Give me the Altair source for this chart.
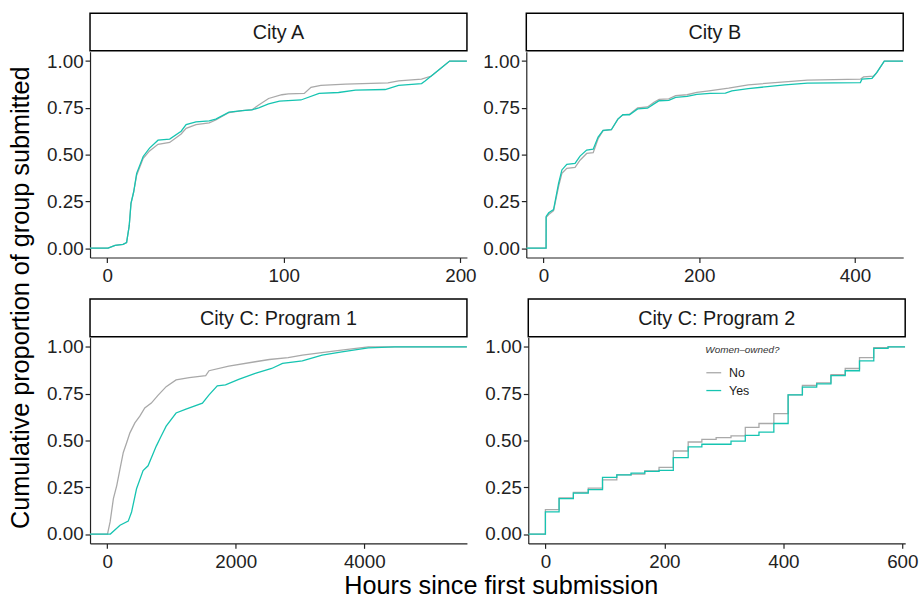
import altair as alt
import pandas as pd

FONT = "Liberation Sans"
GREY = "#A9A9A9"
TEAL = "#16C4B1"
INK = "#222222"

PANEL_W = 381
PLOT_H = 208
STRIP_H = 38

GROUPS = ["No", "Yes"]

# ---- City A ----
A_LIMITS = [-9.7, 203.7]
A_TICKS = [0, 100, 200]
A_NO_X = [0, 0.5, 4.5, 9, 11, 12.5, 13.5, 15, 16.7, 20.4, 24, 28.8, 35.4, 41.9, 44.7, 50.3, 57.8,
          61.5, 69, 76.5, 82, 85.8, 91.4, 98.9, 102.6, 111.6, 115.4, 121, 135, 159, 165, 178, 183.6, 193.9]
A_NO_Y = [0, 0, 0.015, 0.02, 0.03, 0.12, 0.24, 0.30, 0.39, 0.48, 0.52, 0.555, 0.565, 0.61, 0.64, 0.66,
          0.67, 0.685, 0.725, 0.735, 0.74, 0.765, 0.80, 0.82, 0.825, 0.827, 0.86, 0.87, 0.877, 0.883,
          0.894, 0.903, 0.92, 1.0]
A_YES_X = [0, 0.5, 4.5, 9, 11, 12.5, 13.5, 15, 16.7, 20.4, 24, 28.8, 35.4, 41.9, 44.7, 50.3, 57.8,
           61.5, 69, 76.5, 82, 85.8, 91.4, 97.6, 109.7, 120, 131, 140.6, 157.4, 165, 178, 180, 187, 193.9]
A_YES_Y = [0, 0, 0.015, 0.02, 0.03, 0.12, 0.24, 0.30, 0.40, 0.49, 0.535, 0.577, 0.583, 0.625, 0.66,
           0.675, 0.68, 0.69, 0.727, 0.735, 0.739, 0.75, 0.771, 0.786, 0.792, 0.827, 0.832, 0.845,
           0.848, 0.87, 0.88, 0.894, 0.947, 1.0]

# ---- City B ----
B_LIMITS = [-22, 462]
B_TICKS = [0, 200, 400]
B_NO_X = [0, 3.4, 3.5, 6.8, 13, 19.5, 23.7, 30, 40.6, 47, 55.5, 63.9, 70.2, 76.6, 87.2, 95.6, 102,
          110.5, 121, 133.7, 142, 148.6, 161, 169.8, 184.5, 197, 212.5, 237.8, 263, 310, 339, 407,
          411, 424, 428, 437.7]
B_NO_Y = [0, 0, 0.165, 0.18, 0.2, 0.33, 0.40, 0.427, 0.432, 0.47, 0.506, 0.51, 0.585, 0.628, 0.633,
          0.69, 0.713, 0.716, 0.75, 0.755, 0.78, 0.795, 0.798, 0.815, 0.82, 0.833, 0.841, 0.855,
          0.873, 0.889, 0.898, 0.903, 0.915, 0.92, 0.938, 1.0]
B_YES_X = [0, 3.4, 3.5, 6.8, 13, 19.5, 23.7, 30, 40.6, 47, 55.5, 63.9, 70.2, 76.6, 87.2, 95.6, 102,
           110.5, 121, 133.7, 142, 148.6, 161, 169.8, 184.5, 197, 214, 233.7, 242, 263, 284.4, 310,
           339, 407, 409, 422, 428, 437.7]
B_YES_Y = [0, 0, 0.17, 0.189, 0.206, 0.347, 0.418, 0.448, 0.453, 0.492, 0.524, 0.529, 0.594, 0.63,
           0.633, 0.69, 0.713, 0.713, 0.744, 0.748, 0.771, 0.788, 0.79, 0.806, 0.811, 0.822, 0.827,
           0.829, 0.841, 0.853, 0.862, 0.873, 0.882, 0.885, 0.903, 0.908, 0.938, 1.0]

# ---- City C: Program 1 ----
C1_LIMITS = [-266.5, 5596.5]
C1_TICKS = [0, 2000, 4000]
C1_NO_X = [0, 5, 46, 97, 149, 200, 251, 303, 354, 431, 508, 585, 687, 790, 918, 1072, 1277, 1533,
           1585, 1892, 2303, 2523, 2815, 3036, 3549, 4062]
C1_NO_Y = [0, 0, 0.065, 0.189, 0.259, 0.348, 0.436, 0.488, 0.541, 0.594, 0.63, 0.674, 0.70, 0.741,
           0.788, 0.824, 0.836, 0.847, 0.873, 0.898, 0.921, 0.933, 0.943, 0.956, 0.979, 1.0]
C1_YES_X = [0, 50, 200, 328, 380, 457, 559, 636, 764, 841, 918, 1072, 1226, 1482, 1585, 1713, 1841,
            2046, 2303, 2559, 2728, 3036, 3344, 3651, 4062, 4472]
C1_YES_Y = [0, 0, 0.047, 0.069, 0.118, 0.242, 0.339, 0.365, 0.47, 0.524, 0.577, 0.647, 0.668, 0.70,
            0.744, 0.792, 0.797, 0.827, 0.859, 0.885, 0.912, 0.926, 0.956, 0.974, 0.995, 1.0]

# ---- City C: Program 2 (daily deadlines, drawn as steps) ----
C2_LIMITS = [-28.8, 604.8]
C2_TICKS = [0, 200, 400, 600]
C2_X = [0, 23, 47, 72, 96, 120, 144, 167, 191, 215, 240, 263, 287, 312, 336, 359, 384, 408, 432,
        456, 480, 504, 528, 552, 576]
C2_NO_Y = [0.13, 0.193, 0.222, 0.245, 0.289, 0.316, 0.32, 0.337, 0.356, 0.444, 0.492, 0.506, 0.515,
           0.525, 0.57, 0.591, 0.644, 0.744, 0.794, 0.808, 0.852, 0.885, 0.943, 0.996, 1.0]
C2_YES_Y = [0.118, 0.189, 0.219, 0.238, 0.303, 0.316, 0.326, 0.335, 0.34, 0.409, 0.466, 0.48, 0.48,
            0.497, 0.527, 0.545, 0.591, 0.744, 0.785, 0.803, 0.847, 0.873, 0.926, 0.993, 1.0]


def ecdf_frame(limits, series):
    rows = []
    for group, xs, ys in series:
        pts = [(limits[0], 0.0)] + list(zip(xs, ys)) + [(limits[1], 1.0)]
        for i, (x, y) in enumerate(pts):
            rows.append({"hours": x, "prop": y, "group": group, "order": i})
    return pd.DataFrame(rows)


def strip(name):
    base = alt.Chart(pd.DataFrame({"label": [name]}))
    box = base.mark_rect(fill="white", stroke="black", strokeWidth=1.5).encode(
        x=alt.value(0), x2=alt.value(PANEL_W), y=alt.value(0), y2=alt.value(STRIP_H)
    )
    txt = base.mark_text(font=FONT, fontSize=20, color="#1A1A1A", baseline="middle",
                         align="center").encode(
        x=alt.value(PANEL_W / 2), y=alt.value(STRIP_H / 2 + 1), text="label:N"
    )
    return (box + txt).properties(width=PANEL_W, height=STRIP_H)


def panel(name, limits, ticks, series, interp, legend=False):
    df = ecdf_frame(limits, series)
    if legend:
        leg = alt.Legend(
            title="Women\u2013owned?", orient="none", legendX=179, legendY=8,
            titleFontStyle="italic", titleFontWeight="normal", titleFontSize=10,
            titleColor="#333333", titleFont=FONT, labelFont=FONT, labelFontSize=12.5,
            labelColor="#1A1A1A", symbolType="stroke", symbolSize=225, symbolStrokeWidth=1.3,
            rowPadding=3, titlePadding=9, labelOffset=7,
        )
    else:
        leg = None
    color = alt.Color("group:N", scale=alt.Scale(domain=GROUPS, range=[GREY, TEAL]), legend=leg)
    line = alt.Chart(df).mark_line(interpolate=interp, strokeWidth=1.3, clip=True).encode(
        x=alt.X("hours:Q", scale=alt.Scale(domain=limits, nice=False, zero=False),
                axis=alt.Axis(values=ticks, format="d", title=None, labelFlush=False,
                              labelPadding=4)),
        y=alt.Y("prop:Q", scale=alt.Scale(domain=[-0.05, 1.05], nice=False, zero=False),
                axis=alt.Axis(values=[0, 0.25, 0.5, 0.75, 1.0], format=".2f", title=None)),
        color=color,
        order="order:Q",
    ).properties(width=PANEL_W, height=PLOT_H)
    return alt.vconcat(strip(name), line, spacing=0).resolve_scale(
        color="independent").resolve_legend(color="independent")


pA = panel("City A", A_LIMITS, A_TICKS,
           [("No", A_NO_X, A_NO_Y), ("Yes", A_YES_X, A_YES_Y)], "linear")
pB = panel("City B", B_LIMITS, B_TICKS,
           [("No", B_NO_X, B_NO_Y), ("Yes", B_YES_X, B_YES_Y)], "linear")
pC1 = panel("City C: Program 1", C1_LIMITS, C1_TICKS,
            [("No", C1_NO_X, C1_NO_Y), ("Yes", C1_YES_X, C1_YES_Y)], "linear")
pC2 = panel("City C: Program 2", C2_LIMITS, C2_TICKS,
            [("No", C2_X, C2_NO_Y), ("Yes", C2_X, C2_YES_Y)], "step-after", legend=True)

top = alt.hconcat(pA, pB, spacing=6).resolve_scale(
    color="independent").resolve_legend(color="independent")
bottom = alt.hconcat(pC1, pC2, spacing=17).resolve_scale(
    color="independent").resolve_legend(color="independent")

grid = alt.vconcat(top, bottom, spacing=13).resolve_scale(
    color="independent").resolve_legend(color="independent").properties(
    title=alt.TitleParams("Cumulative proportion of group submitted", orient="left",
                          anchor="middle", font=FONT, fontSize=25.5, fontWeight="normal",
                          color="black", offset=12, dx=-6)
)

chart = alt.vconcat(grid).resolve_scale(
    color="independent").resolve_legend(color="independent").properties(
    title=alt.TitleParams("Hours since first submission", orient="bottom", anchor="middle",
                          font=FONT, fontSize=25.5, fontWeight="normal", color="black",
                          offset=3, dx=38),
    padding={"left": 9, "top": 9, "right": 5, "bottom": 3},
).configure_view(strokeWidth=0).configure_axis(
    grid=False, domainColor=INK, tickColor=INK, domainWidth=1.2, tickWidth=1.2, tickSize=5,
    labelFont=FONT, labelFontSize=19, labelColor=INK, labelPadding=2,
)

chart.save("out.html", embed_options={"renderer": "svg", "actions": False})
